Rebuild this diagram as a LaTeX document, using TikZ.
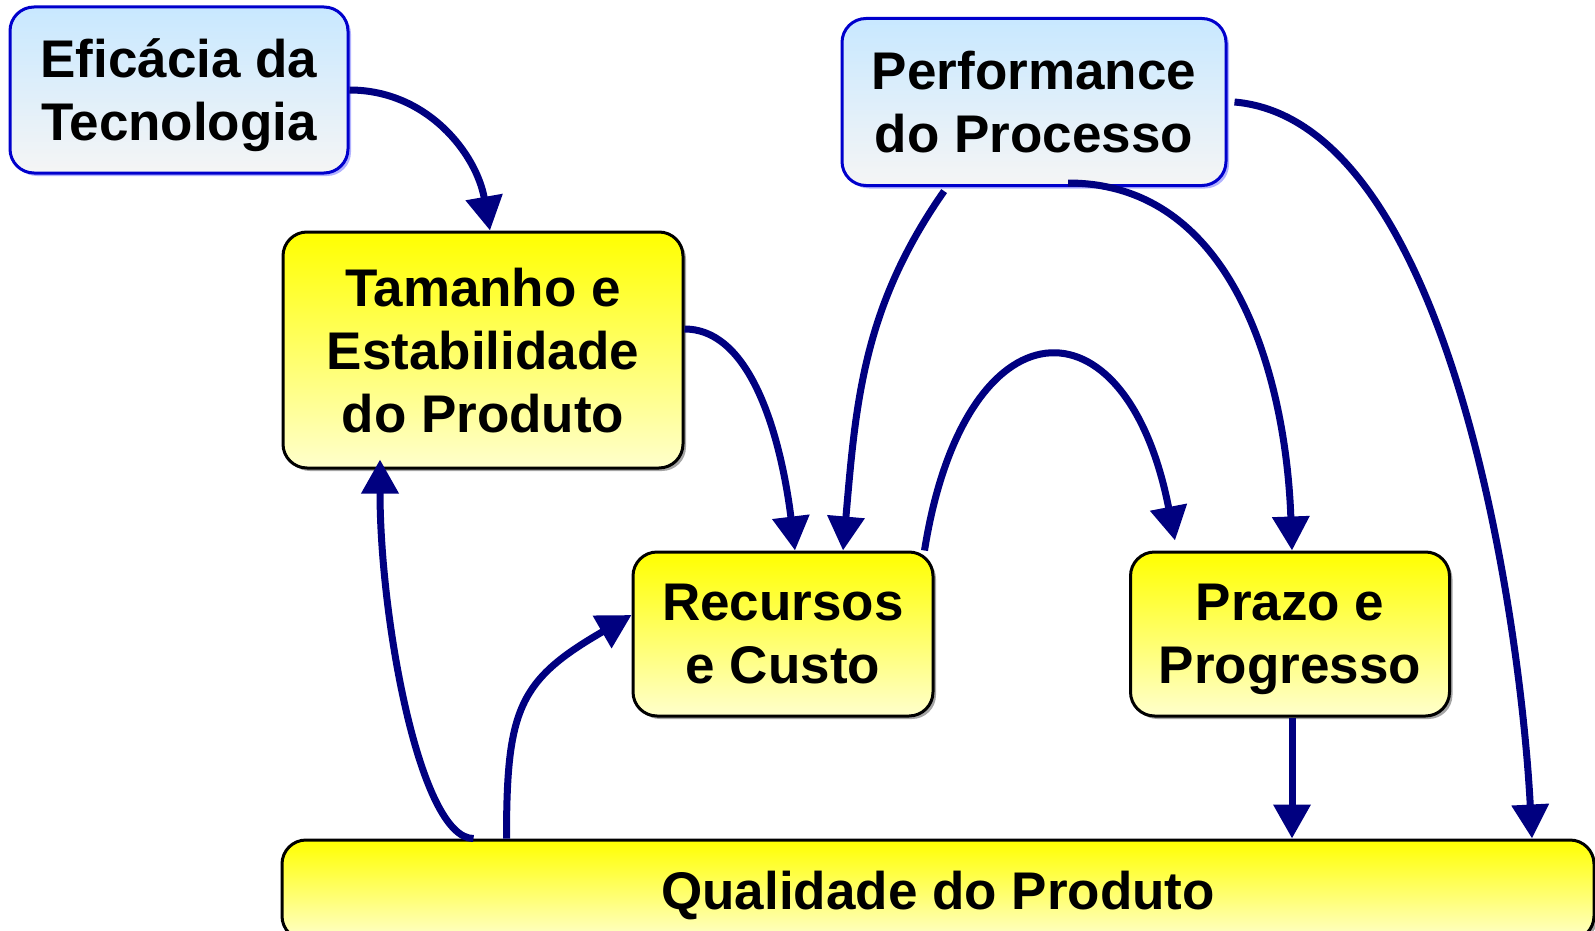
\documentclass[tikz,border=0pt]{standalone}
\usepackage{fontspec}
\setmainfont{Liberation Sans}
\usetikzlibrary{arrows.meta,shadows}

\definecolor{navy}{HTML}{000080}
\definecolor{bluedge}{HTML}{0000CC}
\definecolor{blutop}{HTML}{C8E8FF}
\definecolor{blubot}{HTML}{F5F5F5}
\definecolor{ylwpale}{HTML}{FFFFCC}

\tikzset{
  box/.style={rounded corners=24pt, line width=3pt, align=center, inner sep=0pt,
    font=\bfseries\fontsize{53}{63}\selectfont, text depth=-9pt},
  ylwbox/.style={box, draw=black, top color=yellow, bottom color=ylwpale,
    drop shadow={shadow xshift=3pt, shadow yshift=-3pt, fill=black!70}},
  blubox/.style={box, draw=bluedge, top color=blutop, bottom color=blubot,
    drop shadow={shadow xshift=3pt, shadow yshift=-3pt, fill=blue!60}},
}

\begin{document}
\begin{tikzpicture}[->,>={Triangle[length=34pt,width=36pt]},x=1pt,y=1pt,
    every edge/.style={draw=navy,line width=7pt}]
        \useasboundingbox (0,0) rectangle (1595,-931);
        \node[blubox,minimum width=338pt,minimum height=166pt] (efic) at (179,-90)   {Eficácia da\\Tecnologia};
        \node[ylwbox,minimum width=400pt,minimum height=236pt] (tam)  at (483,-350)  {Tamanho e\\Estabilidade\\do Produto};
        \node[blubox,minimum width=384pt,minimum height=167pt] (perf) at (1034,-102) {Performance\\do Processo};
        \node[ylwbox,minimum width=300pt,minimum height=164pt] (rec)  at (783,-634)  {Recursos\\e Custo};
        \node[ylwbox,minimum width=319pt,minimum height=164pt] (pra)  at (1290,-634) {Prazo e\\Progresso};
        \node[ylwbox,minimum width=1312pt,minimum height=100pt] (qual) at (938,-890) {Qualidade do Produto};
        \path (efic.east)                   edge [out=0,in=100]                    ([xshift=7pt]tam.north);
        \path ([xshift=-87pt]perf.south)     edge [out=235,in=85,shorten <=5pt]     ([xshift=60pt]rec.north);
        \path ([xshift=34pt,yshift=4pt]perf.south) edge [out=0,in=92]               ([xshift=2pt]pra.north);
        \path ([xshift=7pt]perf.east)        edge [out=-5,in=93,looseness=0.7]      ([xshift=594pt]qual.north);
        \path ([yshift=21pt]tam.east)        edge [out=0,in=97,looseness=0.8]       ([xshift=12pt]rec.north);
        \path ([xshift=-10pt]rec.north east) edge [out=81,in=101,looseness=2.6]     ([xshift=46pt,yshift=10pt]pra.north west);
        \path ([xshift=193pt]qual.north west) edge [out=180,in=-90,out looseness=0.35,in looseness=1.05] ([xshift=-103pt,yshift=10pt]tam.south);
        \path ([xshift=226pt]qual.north west) edge [out=90,in=210,looseness=1.3]    ([yshift=19pt]rec.west);
        \path ([xshift=2pt]pra.south)        edge                                   ([xshift=2pt]pra.south |- qual.north);
      \end{tikzpicture}
\end{document}
